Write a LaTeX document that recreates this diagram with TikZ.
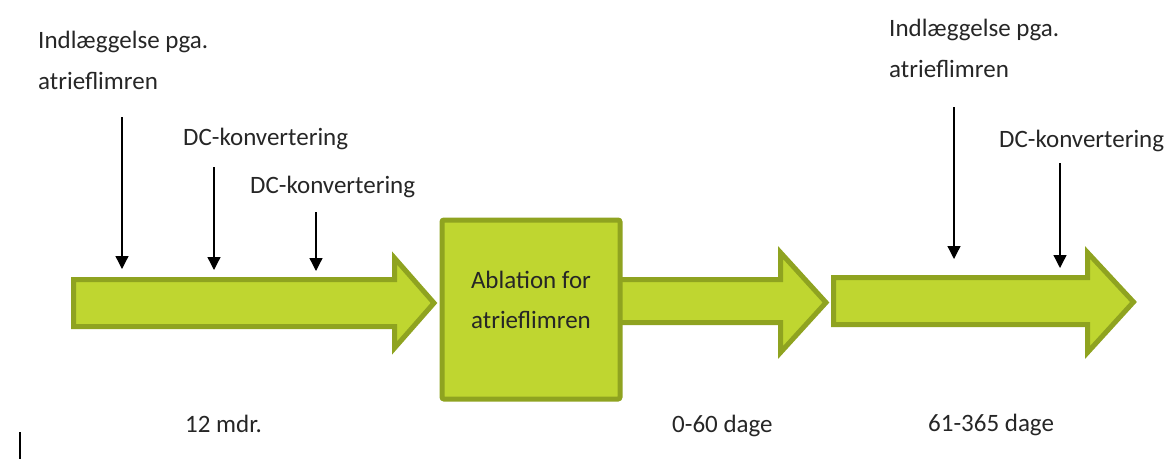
\documentclass[tikz,border=0pt]{standalone}
\usepackage{fontspec}
\setmainfont{Carlito}
\usetikzlibrary{arrows.meta}
\definecolor{limefill}{RGB}{191,214,48}
\definecolor{limeline}{RGB}{143,163,32}

\begin{document}
\begin{tikzpicture}[x=1pt, y=-1pt,
	lbl/.style={anchor=base west, inner sep=0, font=\fontsize{25}{30}\selectfont, text=black!85},
	mid/.style={anchor=base, inner sep=0, font=\fontsize{25}{30}\selectfont, text=black!85},
	blockarr/.style={fill=limefill, draw=limeline, line width=5pt},
	ablbox/.style={fill=limefill, draw=limeline, line width=5pt, rounded corners=2pt, minimum width=178pt, minimum height=179pt, inner sep=0},
	pointer/.style={line width=1.3pt, -{Triangle[width=13pt,length=13pt]}}]
	\useasboundingbox (0,0) rectangle (1173,459);

	% the three block arrows
	\draw [blockarr] (73.5,279.5) -- (394.5,279.5) -- (394.5,258) -- (434,303) -- (394.5,348) -- (394.5,326.5) -- (73.5,326.5) -- cycle;
	\draw [blockarr] (615,279.5) -- (780.5,279.5) -- (780.5,252.5) -- (826,302.5) -- (780.5,352.5) -- (780.5,322.5) -- (615,322.5) -- cycle;
	\draw [blockarr] (833.5,277.5) -- (1087.5,277.5) -- (1087.5,252.5) -- (1133.5,302) -- (1087.5,352.5) -- (1087.5,324.5) -- (833.5,324.5) -- cycle;

	\node [ablbox] (abl) at (531,309.5) {};
	\node [mid] (abl1) at (531,288) {Ablation for};
	\node [mid] (abl2) at (531,328) {atrieflimren};

	% events before ablation
	\node [lbl] (ind1a) at (38,48) {Indlæggelse pga.};
	\node [lbl] (ind1b) at (38,89) {atrieflimren};
	\node [lbl] (dc1) at (183,145) {DC-konvertering};
	\node [lbl] (dc2) at (250,193) {DC-konvertering};
	\coordinate (p1s) at (122,117);
	\coordinate (p1e) at (122,269);
	\coordinate (p2s) at (214,167);
	\coordinate (p2e) at (214,270);
	\coordinate (p3s) at (316,212);
	\coordinate (p3e) at (316,271);
	\draw [pointer] (p1s) -- (p1e);
	\draw [pointer] (p2s) -- (p2e);
	\draw [pointer] (p3s) -- (p3e);

	% events after ablation
	\node [lbl] (ind2a) at (889,36) {Indlæggelse pga.};
	\node [lbl] (ind2b) at (889,77) {atrieflimren};
	\node [lbl] (dc3) at (999,147) {DC-konvertering};
	\coordinate (p4s) at (954,107);
	\coordinate (p4e) at (954,259);
	\coordinate (p5s) at (1060,163);
	\coordinate (p5e) at (1060,268);
	\draw [pointer] (p4s) -- (p4e);
	\draw [pointer] (p5s) -- (p5e);

	% periods
	\node [lbl] (per1) at (185,432) {12 mdr.};
	\node [lbl] (per2) at (672,432) {0-60 dage};
	\node [lbl] (per3) at (928,431) {61-365 dage};

	\draw [line width=1.2pt] (20,432) -- (20,459);
\end{tikzpicture}
\end{document}
